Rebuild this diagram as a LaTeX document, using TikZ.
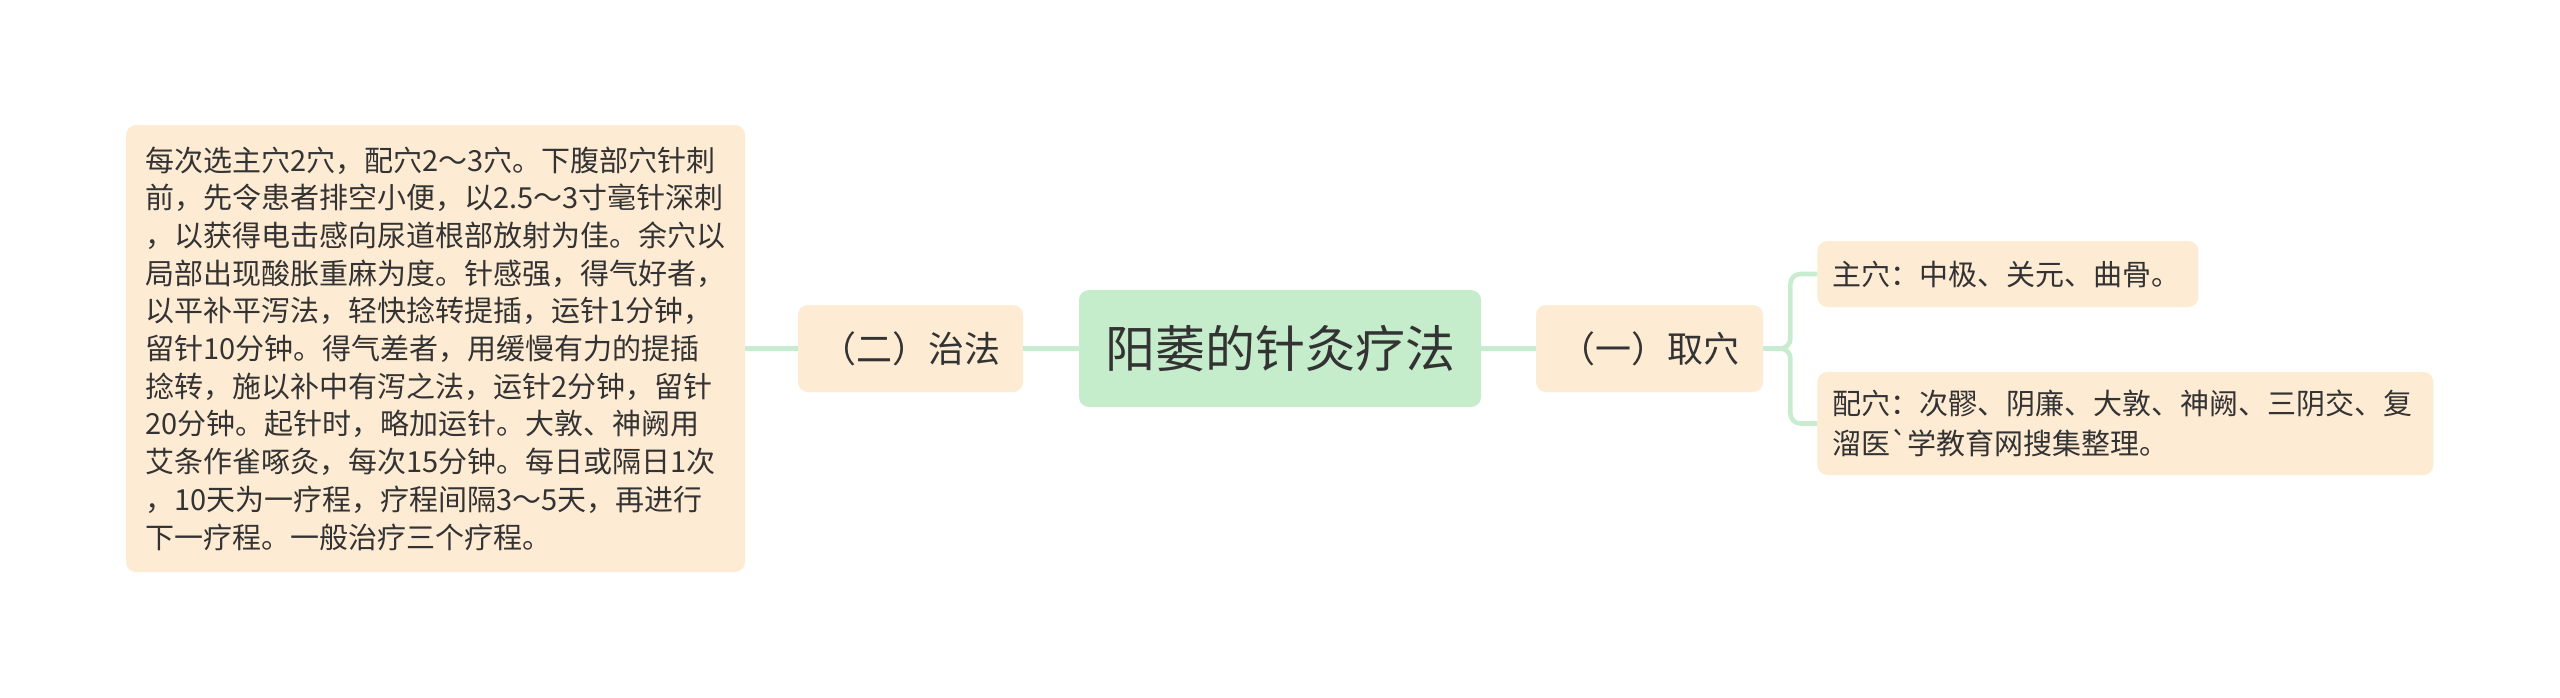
\documentclass[tikz,border=0pt]{standalone}
\usepackage{fontspec}
\newfontfamily\cjk{Noto Sans CJK SC}
\definecolor{peach}{HTML}{FEEBD4}
\definecolor{mint}{HTML}{C5ECCB}
\definecolor{linkc}{HTML}{C8ECD0}
\definecolor{ink}{HTML}{333333}
\tikzset{
  box/.style={fill=peach, draw=none, rounded corners=5pt, text=ink, inner sep=0pt},
  rootbox/.style={fill=mint, draw=none, rounded corners=5pt, text=ink, inner sep=0pt,
    font=\cjk\fontsize{25}{30}\selectfont},
  lvlone/.style={box, font=\cjk\fontsize{18}{22}\selectfont, minimum height=43.5pt},
  leafbox/.style={box, font=\cjk\fontsize{14.5}{18.85}\selectfont, align=left},
  link/.style={draw=linkc, line width=2.3pt, rounded corners=5pt}
}
\begin{document}
\begin{tikzpicture}[x=0.5pt,y=-0.5pt]
\useasboundingbox[fill=white] (0,0) rectangle (2560,697);

\node[rootbox, minimum width=201pt, minimum height=58.5pt] (root) at (1280,348.5) {阳萎的针灸疗法};
\node[lvlone, minimum width=112.5pt] (zhifa) at (910.5,348.5) {（二）治法};
\node[lvlone, minimum width=113.5pt] (quxue) at (1649.5,348.5) {（一）取穴};

\node[leafbox, minimum width=309.5pt, minimum height=223.5pt] (detail) at (435.5,348.5) {每次选主穴2穴，配穴2～3穴。下腹部穴针刺\\
前，先令患者排空小便，以2.5～3寸毫针深刺\\
，以获得电击感向尿道根部放射为佳。余穴以\\
局部出现酸胀重麻为度。针感强，得气好者，\\
以平补平泻法，轻快捻转提插，运针1分钟，\\
留针10分钟。得气差者，用缓慢有力的提插\\
捻转，施以补中有泻之法，运针2分钟，留针\\
20分钟。起针时，略加运针。大敦、神阙用\\
艾条作雀啄灸，每次15分钟。每日或隔日1次\\
，10天为一疗程，疗程间隔3～5天，再进行\\
下一疗程。一般治疗三个疗程。};

\node[leafbox, anchor=west, text width=175.5pt, inner xsep=7.5pt, minimum height=33pt] (zhu) at (1817,274) {主穴：中极、关元、曲骨。};
\node[leafbox, font=\cjk\fontsize{14.5}{20}\selectfont, anchor=west, text width=293pt, inner xsep=7.5pt, minimum height=51.5pt] (pei) at (1817,423.5) {配穴：次髎、阴廉、大敦、神阙、三阴交、复\\溜医`学教育网搜集整理。};

\draw[link] (detail.east) -- (zhifa.west);
\draw[link] (zhifa.east) -- (root.west);
\draw[link] (root.east) -- (quxue.west);
\draw[link] (quxue.east) -- ++(27,0) |- (zhu.west);
\draw[link] (quxue.east) -- ++(27,0) |- (pei.west);
\end{tikzpicture}
\end{document}
